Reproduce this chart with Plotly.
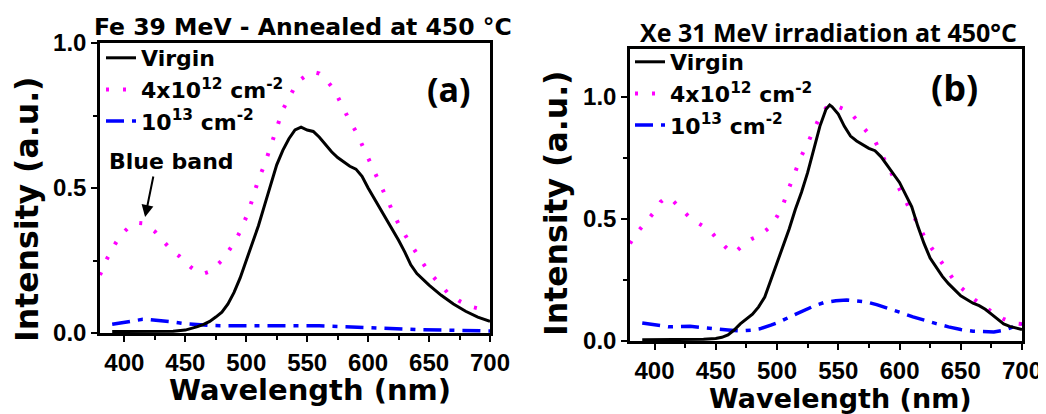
import plotly.graph_objects as go

# ---------------- data (a) Fe 39 MeV ----------------
a_virgin_x = [390, 400, 410, 420, 430, 440, 450, 455, 460, 465, 470, 475, 480, 485, 490, 495, 500,
              505, 510, 515, 520, 525, 530, 535, 540, 545, 550, 555, 560, 565, 570, 575, 580, 585,
              590, 595, 600, 605, 610, 615, 620, 625, 630, 635, 640, 645, 650, 660, 670, 680, 690, 700]
a_virgin_y = [0.005, 0.005, 0.005, 0.005, 0.005, 0.006, 0.01, 0.015, 0.022, 0.03, 0.04, 0.055, 0.072,
              0.1, 0.14, 0.19, 0.25, 0.31, 0.37, 0.44, 0.51, 0.58, 0.63, 0.67, 0.70, 0.71, 0.70, 0.695,
              0.675, 0.65, 0.625, 0.605, 0.59, 0.575, 0.565, 0.54, 0.50, 0.465, 0.43, 0.39, 0.355, 0.32,
              0.28, 0.235, 0.205, 0.185, 0.165, 0.13, 0.10, 0.075, 0.055, 0.04]

a_dose1_x = list(range(380, 701, 5))
a_dose1_y = [0.20, 0.25, 0.29, 0.325, 0.35, 0.37, 0.38, 0.378, 0.365, 0.35, 0.325, 0.30, 0.28, 0.265,
             0.245, 0.225, 0.21, 0.205, 0.212, 0.23, 0.25, 0.28, 0.31, 0.35, 0.40, 0.46, 0.53, 0.58,
             0.64, 0.70, 0.77, 0.81, 0.85, 0.875, 0.89, 0.90, 0.895, 0.875, 0.85, 0.815, 0.77, 0.73,
             0.695, 0.65, 0.60, 0.56, 0.51, 0.465, 0.42, 0.375, 0.34, 0.305, 0.27, 0.24, 0.21, 0.185,
             0.16, 0.14, 0.125, 0.11, 0.10, 0.09, 0.085, 0.08, 0.075]

a_dose2_x = [390, 400, 410, 415, 420, 430, 440, 450, 460, 470, 480, 500, 520, 540, 560, 580, 600,
             620, 640, 660, 680, 700]
a_dose2_y = [0.03, 0.038, 0.045, 0.047, 0.046, 0.043, 0.038, 0.032, 0.028, 0.026, 0.025, 0.025, 0.025,
             0.026, 0.025, 0.022, 0.018, 0.015, 0.012, 0.01, 0.008, 0.007]

# ---------------- data (b) Xe 31 MeV ----------------
b_virgin_x = [390, 400, 420, 440, 450, 455, 460, 465, 470, 475, 480, 485, 490, 495, 500, 505, 510,
              515, 520, 525, 530, 535, 540, 543, 545, 550, 555, 560, 565, 570, 575, 580, 585, 590,
              595, 600, 605, 610, 615, 620, 625, 630, 635, 640, 645, 650, 655, 660, 665, 670, 675,
              680, 685, 690, 695, 700]
b_virgin_y = [0.005, 0.005, 0.005, 0.007, 0.01, 0.015, 0.025, 0.045, 0.07, 0.09, 0.11, 0.14, 0.18,
              0.25, 0.32, 0.39, 0.46, 0.54, 0.61, 0.69, 0.79, 0.88, 0.95, 0.967, 0.96, 0.93, 0.88,
              0.84, 0.82, 0.805, 0.79, 0.78, 0.755, 0.72, 0.685, 0.65, 0.60, 0.55, 0.47, 0.40, 0.34,
              0.30, 0.265, 0.235, 0.21, 0.185, 0.17, 0.155, 0.145, 0.13, 0.11, 0.09, 0.07, 0.06,
              0.052, 0.047]

b_dose1_x = list(range(380, 701, 5))
b_dose1_y = [0.40, 0.44, 0.47, 0.50, 0.53, 0.57, 0.59, 0.575, 0.55, 0.525, 0.50, 0.485, 0.47, 0.455,
             0.425, 0.40, 0.375, 0.36, 0.385, 0.405, 0.42, 0.43, 0.45, 0.47, 0.51, 0.56, 0.63, 0.70,
             0.76, 0.81, 0.87, 0.92, 0.955, 0.97, 0.96, 0.95, 0.935, 0.905, 0.88, 0.85, 0.82, 0.77,
             0.72, 0.67, 0.62, 0.575, 0.525, 0.48, 0.43, 0.39, 0.355, 0.32, 0.28, 0.245, 0.22, 0.195,
             0.175, 0.155, 0.14, 0.12, 0.105, 0.09, 0.08, 0.072, 0.07]

b_dose2_x = [390, 400, 412, 429, 440, 450, 460, 470, 480, 486, 495, 502, 510, 519, 530, 538, 548,
             557, 565, 573, 582, 592, 600, 611, 620, 630, 640, 650, 660, 669, 677, 685, 692, 700]
b_dose2_y = [0.074, 0.066, 0.058, 0.06, 0.056, 0.05, 0.045, 0.041, 0.045, 0.05, 0.065, 0.078, 0.098,
             0.12, 0.143, 0.157, 0.165, 0.168, 0.165, 0.16, 0.148, 0.133, 0.118, 0.099, 0.085, 0.071,
             0.058, 0.047, 0.04, 0.037, 0.037, 0.044, 0.055, 0.071]

series_names = ["Virgin", "4x10<sup>12</sup> cm<sup>-2</sup>", "10<sup>13</sup> cm<sup>-2</sup>"]
x_ticks = [400, 450, 500, 550, 600, 650, 700]
y_ticks = [0.0, 0.5, 1.0]
titles = ["Fe 39 MeV - Annealed at 450 °C", "Xe 31 MeV irradiation at 450°C"]
panel_labels = ["(a)", "(b)"]
x_title = "Wavelength (nm)"
y_title = "Intensity (a.u.)"

# ---------------- styles ----------------
ARIAL = "Liberation Sans, Arial, sans-serif"
WIDE = "DejaVu Sans, sans-serif"
CALIBRI = "Open Sans, sans-serif"
styles = [
    dict(color="#000000", width=3),
    dict(color="#ff00ff", width=4, dash="3px,14px"),
    dict(color="#0000ff", width=3.5, dash="18px,8px,5px,8px"),
]

# figure is placed in the page with an 8px body margin
W, H, OFF = 1038, 406, 8


def px(X):
    return (X - OFF) / W


def py(Y):
    return 1 - (Y - OFF) / H


fig = go.Figure()

panels = [
    ("x", "y", "legend", [(a_virgin_x, a_virgin_y), (a_dose1_x, a_dose1_y), (a_dose2_x, a_dose2_y)]),
    ("x2", "y2", "legend2", [(b_virgin_x, b_virgin_y), (b_dose1_x, b_dose1_y), (b_dose2_x, b_dose2_y)]),
]
for xa, ya, lg, data in panels:
    for i in [2, 1, 0]:
        xs, ys = data[i]
        fig.add_trace(go.Scatter(
            x=xs, y=ys, mode="lines", name=series_names[i], line=styles[i],
            xaxis=xa, yaxis=ya, legend=lg, legendrank=i + 1,
        ))

axis_common = dict(
    showline=True, linewidth=2.5, linecolor="black", mirror=True,
    ticks="outside", ticklen=6, tickwidth=2, tickcolor="black",
    showgrid=False, zeroline=False,
    tickfont=dict(family=ARIAL, size=24, color="black", weight="bold"),
)
x_minor = dict(ticks="outside", ticklen=4, tickwidth=2, dtick=25, tick0=375, tickcolor="black")
y_minor = dict(ticks="outside", ticklen=4, tickwidth=2, dtick=0.25, tick0=0, tickcolor="black")
legend_font = dict(family=WIDE, size=22, color="black", weight="bold")

fig.update_layout(
    width=W, height=H, autosize=False,
    margin=dict(l=0, r=0, t=0, b=0, autoexpand=False),
    paper_bgcolor="white", plot_bgcolor="white",
    xaxis=dict(domain=[px(100), px(490)], range=[380, 700], tickvals=x_ticks, anchor="y",
               minor=x_minor, **axis_common),
    yaxis=dict(domain=[py(333), py(43)], range=[0, 1.0], tickvals=y_ticks, tickformat=".1f",
               anchor="x", minor=y_minor, **axis_common),
    xaxis2=dict(domain=[px(630), px(1022)], range=[380, 700], tickvals=x_ticks, anchor="y2",
                minor=x_minor, **axis_common),
    yaxis2=dict(domain=[py(341), py(49)], range=[0, 1.197], tickvals=y_ticks, tickformat=".1f",
                anchor="x2", minor=y_minor, **axis_common),
    legend=dict(x=px(101), y=py(37), xanchor="left", yanchor="top", bgcolor="rgba(0,0,0,0)",
                font=legend_font, tracegroupgap=0, itemwidth=30),
    legend2=dict(x=px(630), y=py(41), xanchor="left", yanchor="top", bgcolor="rgba(0,0,0,0)",
                 font=legend_font, tracegroupgap=0, itemwidth=30),
    showlegend=True,
)


def ann(text, X, Y, font, **kw):
    fig.add_annotation(text=text, xref="paper", yref="paper", x=px(X), y=py(Y),
                       xanchor="center", yanchor="middle", showarrow=False, font=font, **kw)


ann(titles[0], 303, 27, dict(family=WIDE, size=23.5, color="black", weight="bold"))
ann(titles[1], 828, 32, dict(family=CALIBRI, size=25, color="black", weight="bold"))
ann(panel_labels[0], 449, 89, dict(family=CALIBRI, size=34, color="black", weight="bold"))
ann(panel_labels[1], 954, 88, dict(family=CALIBRI, size=36, color="black", weight="bold"))
# axis titles
ann(x_title, 310, 390, dict(family=WIDE, size=29, color="black", weight="bold"))
ann(x_title, 840, 398, dict(family=WIDE, size=27, color="black", weight="bold"))
title_font_y = dict(family=WIDE, size=31.5, color="black", weight="bold")
ann(y_title, 27, 209, title_font_y, textangle=-90)
ann(y_title, 556, 203, title_font_y, textangle=-90)

# Blue band label + arrow
fig.add_annotation(text="Blue band", xref="x", yref="y", x=439, y=0.59,
                   xanchor="center", yanchor="middle", showarrow=False,
                   font=dict(family=WIDE, size=22, color="black", weight="bold"))
fig.add_annotation(text="", xref="x", yref="y", x=417, y=0.40, axref="x", ayref="y",
                   ax=424, ay=0.545, showarrow=True, arrowhead=2, arrowsize=1.2,
                   arrowwidth=2, arrowcolor="black")

fig.write_html("out.html")
